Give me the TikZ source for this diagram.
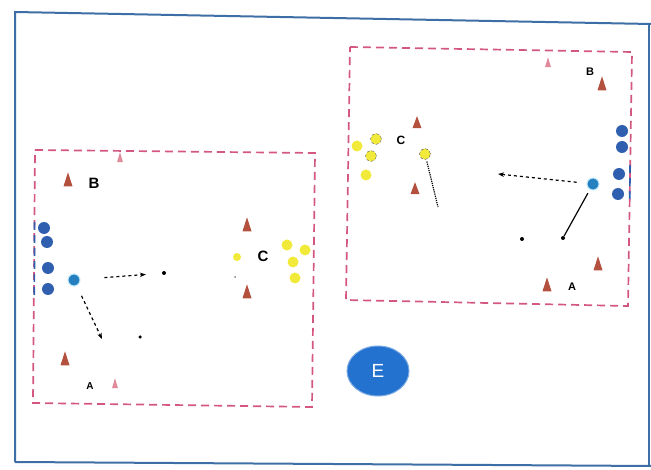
\documentclass[tikz,border=0pt]{standalone}
\usepackage{fontspec}
\setmainfont{Liberation Sans}
\usetikzlibrary{arrows.meta, shapes.geometric}
\definecolor{frameblue}{HTML}{3D6FA6}
\definecolor{fieldpink}{HTML}{D4577F}
\definecolor{conered}{HTML}{B4503E}
\definecolor{conepink}{HTML}{E08A9C}
\definecolor{playerblue}{HTML}{2F5FAE}
\definecolor{ballyellow}{HTML}{F2EA3A}
\definecolor{badgeblue}{HTML}{2372D0}

\begin{document}
\begin{tikzpicture}[
  x=1pt, y=-1pt,
  field/.style={draw=fieldpink, line width=1.7pt, dash pattern=on 8pt off 5pt},
  cone/.style={isosceles triangle, isosceles triangle apex angle=40, isosceles triangle stretches, shape border rotate=90, fill=conered, inner sep=0pt, minimum height=14pt, minimum width=9pt},
  minicone/.style={cone, fill=conepink, minimum height=10pt, minimum width=6pt},
  player/.style={circle, fill=playerblue, inner sep=0pt, minimum size=12pt},
  mainplayer/.style={circle, fill=playerblue!80!cyan, draw=cyan!25, line width=1pt, inner sep=0pt, minimum size=12pt},
  ball/.style={circle, fill=ballyellow, inner sep=0pt, minimum size=11pt},
  spot/.style={circle, fill=black, inner sep=0pt, minimum size=4pt},
  lbl/.style={font=\bfseries, inner sep=0pt},
  pass/.style={draw, line width=1.2pt, dashed, -{Stealth[length=6pt]}},
  run/.style={draw, line width=1.2pt}
]
  \useasboundingbox (0,0) rectangle (651,470);

  % Outer frame
  \draw[frameblue, line width=2pt] (15,462) -- (15,12) -- (651,24);
  \draw[frameblue, line width=2pt] (15,462) -- (651,466);
  \draw[frameblue, line width=1.5pt] (649,24) -- (649,466);

  % Left field
  \draw[field] (35,150) -- (315,153) -- (312,407) -- (33,403) -- cycle;
  \draw[field, draw=playerblue] (34.6,222) -- (34.3,296);
  \node[minicone] (lc1) at (120,160) {};
  \node[cone] (lc2) at (68,183) {};
  \node[lbl, font=\bfseries\fontsize{15}{15}\selectfont] (lB) at (94,183) {B};
  \node[player] (lp1) at (44,228) {};
  \node[player] (lp2) at (47,242) {};
  \node[player] (lp3) at (48,268) {};
  \node[player] (lp4) at (48,289) {};
  \node[mainplayer] (lmain) at (74,280) {};
  \node[spot] (ls1) at (164,273) {};
  \node[spot, minimum size=3.5pt] (ls2) at (140,337) {};
  \coordinate (lrun) at (102,339);
  \node[cone] (lc3) at (65,362) {};
  \node[lbl, font=\bfseries\fontsize{10}{10}\selectfont] (lA) at (90,386) {A};
  \node[minicone] (lc4) at (115,386) {};
  \node[cone] (lc5) at (247,228) {};
  \node[ball, minimum size=8pt] (lb0) at (237,257) {};
  \node[lbl, font=\bfseries\fontsize{15}{15}\selectfont] (lC) at (263,256) {C};
  \node[ball] (lb1) at (287,245) {};
  \node[ball] (lb2) at (305,250) {};
  \node[ball] (lb3) at (293,262) {};
  \node[ball] (lb4) at (295,278) {};
  \node[spot, fill=gray, minimum size=2pt] (ls3) at (235,277) {};
  \node[cone] (lc6) at (247,295) {};
  \draw[pass, shorten <=24pt, shorten >=16pt] (lmain) -- (ls1);
  \draw[pass, shorten <=11pt] (lmain) -- (lrun);

  % Right field
  \draw[field] (350,47) -- (632,52) -- (628,306) -- (346,300) -- cycle;
  \draw[field, draw=playerblue] (630.1,165) -- (629.7,200);
  \node[minicone] (rc1) at (548,65) {};
  \node[lbl, font=\bfseries\fontsize{11}{11}\selectfont] (rB) at (590,72) {B};
  \node[cone] (rc2) at (602,87) {};
  \node[cone, minimum height=12pt] (rc3) at (417,125) {};
  \node[lbl, font=\bfseries\fontsize{12}{12}\selectfont] (rC) at (401,140) {C};
  \node[ball] (rb1) at (357,146) {};
  \node[ball, draw=black!60, densely dashed] (rb2) at (376,139) {};
  \node[ball, draw=black!60, densely dashed] (rb3) at (371,156) {};
  \node[ball] (rb4) at (366,175) {};
  \node[ball, draw=black!70, densely dashed] (rb5) at (425,154) {};
  \coordinate (rrun1) at (438,207);
  \node[cone, minimum height=12pt] (rc4) at (415,191) {};
  \node[player] (rp1) at (622,131) {};
  \node[player] (rp2) at (622,147) {};
  \node[player] (rp3) at (619,174) {};
  \node[player] (rp4) at (618,194) {};
  \node[mainplayer] (rmain) at (593,184) {};
  \coordinate (rpass) at (498,174);
  \node[spot] (rs1) at (563,238) {};
  \node[spot] (rs2) at (522,239) {};
  \node[cone] (rc5) at (598,267) {};
  \node[cone] (rc6) at (547,288) {};
  \node[lbl, font=\bfseries\fontsize{11}{11}\selectfont] (rA) at (572,287) {A};
  \draw[line width=1.2pt, densely dotted, shorten <=2pt] (rb5) -- (rrun1);
  \draw[pass, shorten <=10pt] (rmain) -- (rpass);
  \draw[run, shorten <=4pt] (rmain) -- (rs1);

  % Badge
  \node[ellipse, fill=badgeblue, draw=badgeblue!60, line width=1pt, minimum width=62pt, minimum height=50pt, text=white, font=\fontsize{19}{19}\selectfont] (badge) at (378,371) {E};
\end{tikzpicture}
\end{document}
